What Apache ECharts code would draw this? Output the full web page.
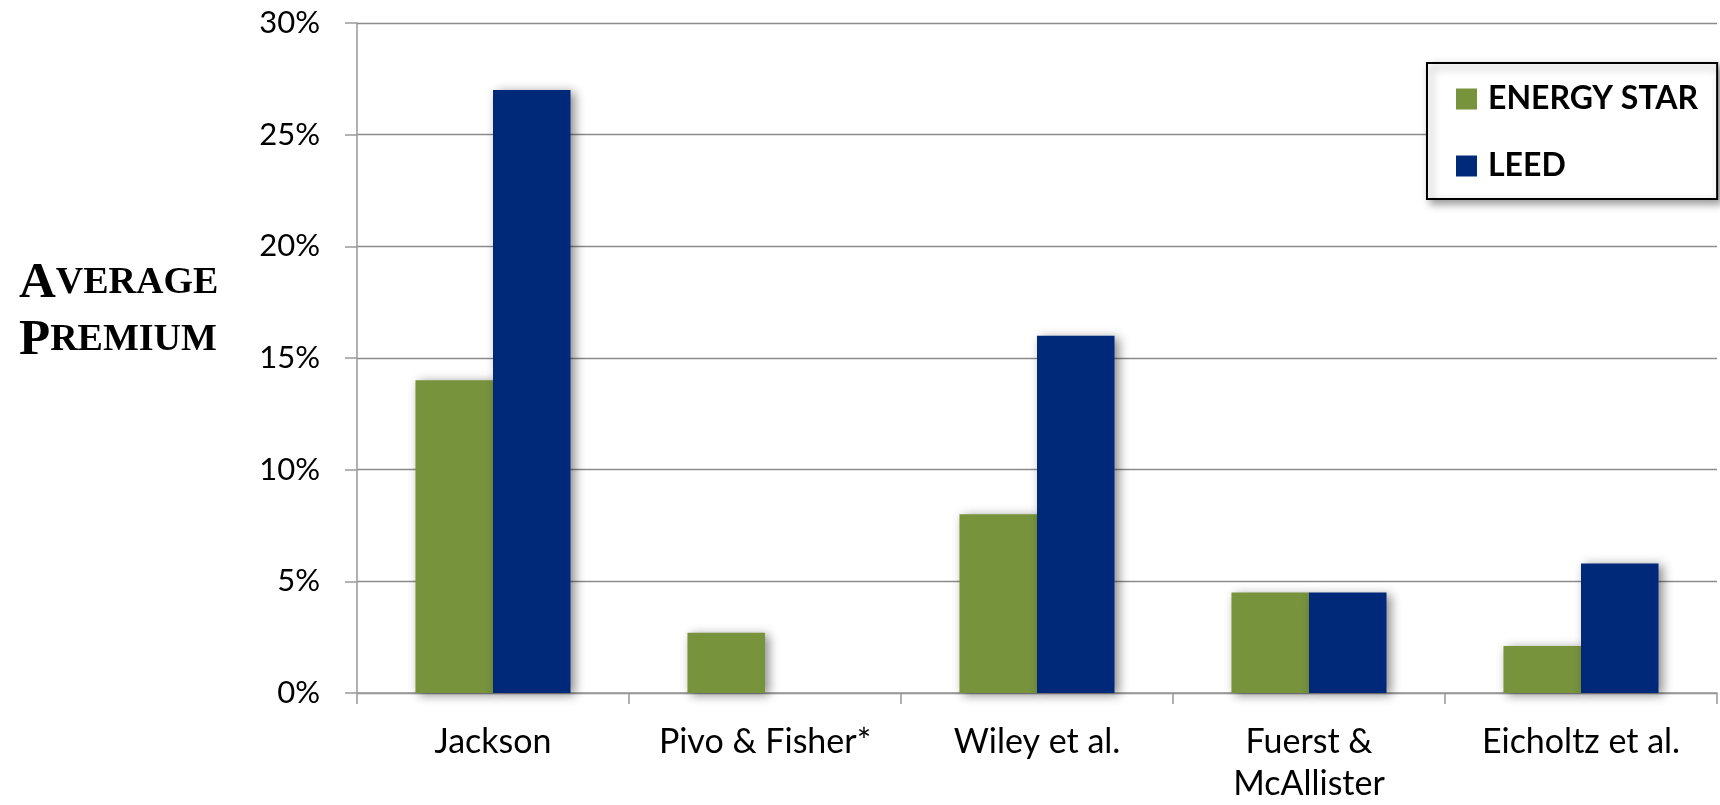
<!DOCTYPE html>
<html>
<head>
<meta charset="utf-8">
<script src="https://cdn.jsdelivr.net/npm/echarts@6/dist/echarts.min.js"></script>
<style>
html,body{margin:0;padding:0;background:#fff;}
#chart{width:1720px;height:805px;}
</style>
</head>
<body>
<div id="chart"></div>
<script>
const categories = ['Jackson', 'Pivo & Fisher*', 'Wiley et al.', 'Fuerst &\nMcAllister', 'Eicholtz et al.'];
const energyStar = [14, 2.7, 8, 4.5, 2.1];
const leed = [27, null, 16, 4.5, 5.8];
const yTicks = { min: 0, max: 30, interval: 5 };

const chart = echarts.init(document.getElementById('chart'));
const barShadow = { shadowBlur: 10, shadowOffsetX: 4, shadowOffsetY: 2, shadowColor: 'rgba(0,0,0,0.45)' };
chart.setOption({
  animation: false,
  backgroundColor: '#ffffff',
  title: {
    left: 14, top: 250,
    text: '{big|A}{small|VERAGE}\n{big|P}{small|REMIUM}',
    textStyle: {
      rich: {
        big: { fontFamily: 'Liberation Serif', fontWeight: 'bold', fontSize: 51, color: '#000', lineHeight: 57 },
        small: { fontFamily: 'Liberation Serif', fontWeight: 'bold', fontSize: 38, color: '#000', lineHeight: 57 }
      }
    }
  },
  legend: {
    orient: 'vertical',
    left: 1427, top: 63,
    padding: [20, 19, 17, 29],
    itemGap: 35,
    itemWidth: 21, itemHeight: 21,
    icon: 'rect',
    backgroundColor: '#fff',
    borderColor: '#000', borderWidth: 2,
    shadowBlur: 8, shadowOffsetX: 4, shadowOffsetY: 4, shadowColor: 'rgba(0,0,0,0.4)',
    textStyle: { fontFamily: 'Lato', fontWeight: 'bold', fontSize: 32, color: '#000', lineHeight: 30, padding: [0, 0, 0, 6] },
    data: ['ENERGY STAR', 'LEED']
  },
  grid: { left: 357, right: 3, top: 23, bottom: 109, containLabel: false },
  xAxis: {
    type: 'category',
    data: categories,
    axisLine: { lineStyle: { color: '#999', width: 1.5 } },
    axisTick: { show: true, length: 11, lineStyle: { color: '#999', width: 1.5 } },
    axisLabel: { fontFamily: 'Lato', fontSize: 34, color: '#000', margin: 28, lineHeight: 42, interval: 0 }
  },
  yAxis: {
    type: 'value',
    min: yTicks.min, max: yTicks.max, interval: yTicks.interval,
    axisLine: { show: true, lineStyle: { color: '#999', width: 1.5 } },
    axisTick: { show: true, inside: false, length: 12, lineStyle: { color: '#999', width: 1.5 } },
    splitLine: { lineStyle: { color: '#8c8c8c', width: 1.3 } },
    axisLabel: { fontFamily: 'Lato', fontSize: 31, color: '#000', margin: 37, formatter: '{value}%' }
  },
  series: [
    { name: 'ENERGY STAR', type: 'bar', data: energyStar, barGap: '0%', barCategoryGap: '43%',
      itemStyle: Object.assign({ color: '#77933C' }, barShadow) },
    { name: 'LEED', type: 'bar', data: leed, barGap: '0%', barCategoryGap: '43%',
      itemStyle: Object.assign({ color: '#00297A' }, barShadow) }
  ]
});
</script>
</body>
</html>
